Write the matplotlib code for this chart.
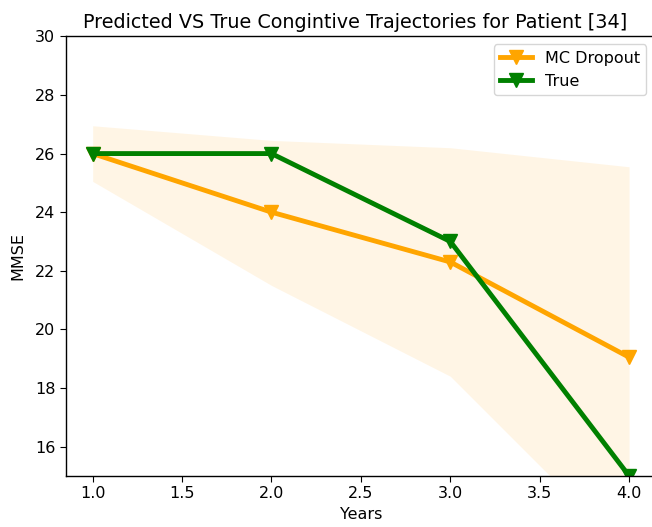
import matplotlib
matplotlib.use("Agg")
import matplotlib.pyplot as plt

years = [1.0, 2.0, 3.0, 4.0]
mc_dropout = [26.0, 24.0, 22.3, 19.05]
true_vals = [26.0, 26.0, 23.0, 15.0]
band_upper = [26.95, 26.45, 26.2, 25.55]
band_lower = [25.05, 21.5, 18.4, 12.3]

plt.rcParams.update({
    "font.size": 11.5,
    "xtick.labelsize": 11.5,
    "ytick.labelsize": 11.5,
    "axes.titlesize": 13.8,
    "legend.fontsize": 11.5,
    "xtick.major.size": 4,
    "ytick.major.size": 4,
    "axes.linewidth": 1.0,
})

fig = plt.figure(figsize=(6.52, 5.27), dpi=100)
ax = fig.add_axes([0.101, 0.097, 0.905, 0.834])
ax.fill_between(years, band_lower, band_upper, color="orange", alpha=0.1, linewidth=0)
ax.plot(years, mc_dropout, color="orange", marker="v", linewidth=3.5, markersize=10, label="MC Dropout")
ax.plot(years, true_vals, color="green", marker="v", linewidth=3.5, markersize=10, label="True")
ax.set_ylim(15, 30)
ax.set_xlim(0.85, 4.15)
ax.set_xlabel("Years")
ax.set_ylabel("MMSE", labelpad=7)
ax.set_title("Predicted VS True Congintive Trajectories for Patient [34]", x=0.49)
ax.legend(loc="upper right", bbox_to_anchor=(0.997, 1.0))
fig.savefig("out.png", dpi=100)
